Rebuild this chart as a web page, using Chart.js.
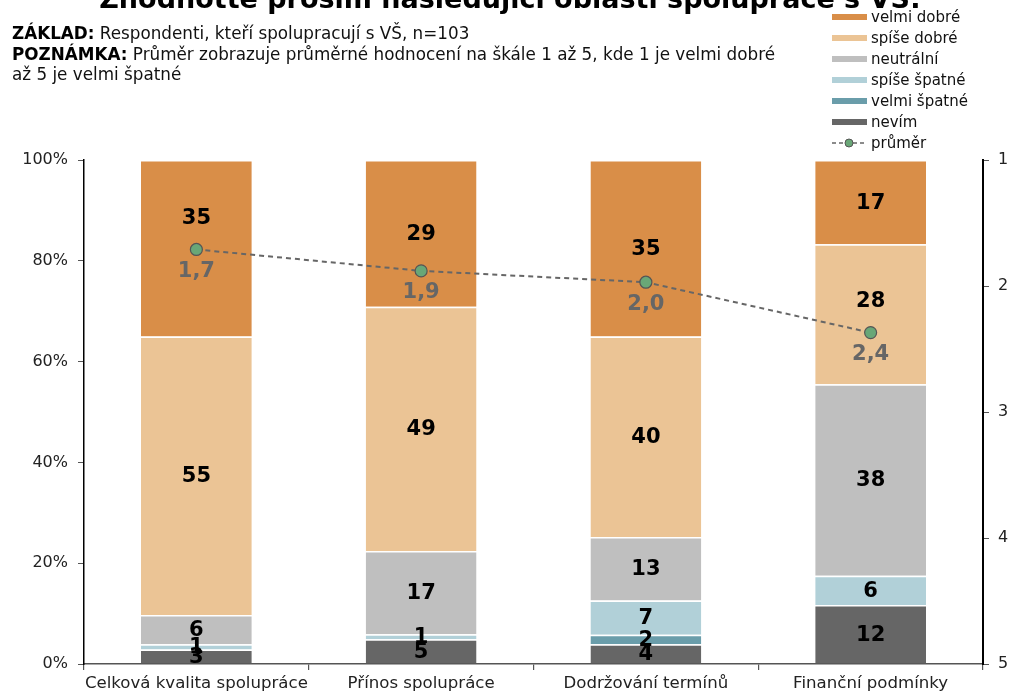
<!DOCTYPE html>
<html>
<head>
<meta charset="utf-8">
<script src="https://cdn.jsdelivr.net/npm/chart.js@4.4.1/dist/chart.umd.min.js"></script>
<style>
html,body{margin:0;padding:0;background:#fff;}
#wrap{position:relative;width:1014px;height:696px;}
</style>
</head>
<body>
<div id="wrap"><canvas id="c" width="1014" height="696"></canvas></div>
<script>
const categories = ["Celková kvalita spolupráce", "Přínos spolupráce", "Dodržování termínů", "Finanční podmínky"];
const nevim        = [2.9, 4.9, 3.9, 11.7];
const velmiSpatne  = [0, 0, 1.9, 0];
const spiseSpatne  = [1.0, 1.0, 6.8, 5.8];
const neutralni    = [5.8, 16.5, 12.6, 38.0];
const spiseDobre   = [55.3, 48.5, 39.8, 27.8];
const velmiDobre   = [35.0, 29.1, 35.0, 16.7];
const prumer       = [1.71, 1.88, 1.97, 2.37];
const leftTicks    = [0, 20, 40, 60, 80, 100];
const rightTicks   = [1, 2, 3, 4, 5];

const titleText = "Zhodnoťte prosím následující oblasti spolupráce s VŠ:";
const noteLines = [
  ["ZÁKLAD:", " Respondenti, kteří spolupracují s VŠ, n=103"],
  ["POZNÁMKA:", " Průměr zobrazuje průměrné hodnocení na škále 1 až 5, kde 1 je velmi dobré"],
  ["", "až 5 je velmi špatné"]
];

const FONT = "'DejaVu Sans', Verdana, sans-serif";

function barDs(label, data, color) {
  return { type: 'bar', label, data, backgroundColor: color, borderColor: '#ffffff',
           borderWidth: {top: 1.5, bottom: 0, left: 0, right: 0}, borderSkipped: false,
           yAxisID: 'y', stack: 's', order: 2,
           categoryPercentage: 1, barPercentage: 0.493 };
}

const datasets = [
  barDs('nevím', nevim, '#666666'),
  barDs('velmi špatné', velmiSpatne, '#6A9DAA'),
  barDs('spíše špatné', spiseSpatne, '#B1D0D8'),
  barDs('neutrální', neutralni, '#BFBFBF'),
  barDs('spíše dobré', spiseDobre, '#EBC495'),
  barDs('velmi dobré', velmiDobre, '#D98E48'),
  { type: 'line', label: 'průměr', data: prumer, yAxisID: 'y2', order: 0,
    borderColor: '#666666', borderWidth: 2, borderDash: [5, 4], fill: false,
    pointRadius: 6, pointHoverRadius: 6, pointBackgroundColor: '#69A777',
    pointBorderColor: '#555555', pointBorderWidth: 1.2, tension: 0 }
];

const decorPlugin = {
  id: 'decor',
  afterDraw(chart) {
    const ctx = chart.ctx;
    ctx.save();
    // title (cut at top)
    ctx.font = "bold 27px " + FONT;
    ctx.fillStyle = '#000';
    ctx.textAlign = 'center';
    ctx.textBaseline = 'alphabetic';
    ctx.fillText(titleText, 510, 8);
    // notes
    ctx.textAlign = 'left';
    noteLines.forEach((ln, i) => {
      const y = 39 + i * 20.5;
      let x = 12;
      if (ln[0]) {
        ctx.font = "bold 16.8px " + FONT;
        ctx.fillStyle = '#000';
        ctx.fillText(ln[0], x, y);
        x += ctx.measureText(ln[0]).width;
      }
      ctx.font = "16.8px " + FONT;
      ctx.fillStyle = '#111';
      ctx.fillText(ln[1], x, y);
    });
    // legend
    const items = [];
    for (let i = 5; i >= 0; i--) items.push(chart.data.datasets[i]);
    items.push(chart.data.datasets[6]);
    ctx.font = "15px " + FONT;
    ctx.textBaseline = 'middle';
    items.forEach((ds, i) => {
      const y = 17 + i * 21;
      if (ds.type === 'bar') {
        ctx.fillStyle = ds.backgroundColor;
        ctx.fillRect(832, y - 3, 35, 6);
      } else {
        ctx.strokeStyle = ds.borderColor;
        ctx.lineWidth = 1.5;
        ctx.setLineDash([4, 3]);
        ctx.beginPath(); ctx.moveTo(832, y); ctx.lineTo(867, y); ctx.stroke();
        ctx.setLineDash([]);
        ctx.beginPath(); ctx.arc(849, y, 4, 0, Math.PI * 2);
        ctx.fillStyle = ds.pointBackgroundColor; ctx.fill();
        ctx.strokeStyle = '#555'; ctx.lineWidth = 1; ctx.stroke();
      }
      ctx.fillStyle = '#111';
      ctx.textAlign = 'left';
      ctx.fillText(ds.label, 871, y + 1);
    });
    // bar value labels
    const lm = chart.getDatasetMeta(6);
    ctx.font = "bold 21px " + FONT;
    ctx.fillStyle = '#000';
    ctx.textAlign = 'center';
    ctx.textBaseline = 'middle';
    for (let d = 0; d < 6; d++) {
      const meta = chart.getDatasetMeta(d);
      meta.data.forEach((el, i) => {
        const v = chart.data.datasets[d].data[i];
        if (!v) return;
        let cy = (el.y + el.base) / 2;
        const p = lm.data[i];
        if (p && Math.abs(p.y - cy) < 25 && p.y > el.y && p.y < el.base) cy = p.y - 32;
        ctx.fillText(String(Math.round(v)), el.x, cy + 1);
      });
    }
    // mean labels
    ctx.fillStyle = '#666666';
    lm.data.forEach((el, i) => {
      const v = chart.data.datasets[6].data[i];
      ctx.fillText(v.toFixed(1).replace('.', ','), el.x, el.y + 22);
    });
    ctx.restore();
  }
};

new Chart(document.getElementById('c'), {
  data: { labels: categories, datasets },
  options: {
    responsive: false,
    animation: false,
    layout: { padding: { top: 160, left: 0, right: 0, bottom: 0 } },
    plugins: { legend: { display: false }, title: { display: false }, tooltip: { enabled: false } },
    scales: {
      x: {
        stacked: true,
        grid: { display: true, drawOnChartArea: false, offset: true, tickLength: 6, color: '#555', lineWidth: 1.2 },
        border: { display: true, color: '#555', width: 1.5 },
        ticks: { font: { family: FONT, size: 16.6 }, color: '#222', padding: 4, maxRotation: 0, minRotation: 0, autoSkip: false },
        afterFit(s) { s.height = 32; }
      },
      y: {
        stacked: true, min: 0, max: 100, position: 'left',
        afterBuildTicks(s) { s.ticks = leftTicks.map(v => ({ value: v })); },
        grid: { display: true, drawOnChartArea: false, tickLength: 6, color: '#555' },
        border: { display: true, color: '#000', width: 1.5 },
        ticks: { font: { family: FONT, size: 16 }, color: '#222', padding: 10, callback: v => v + '%' },
        afterFit(s) { s.width = 84; }
      },
      y2: {
        min: 1, max: 5, reverse: true, position: 'right',
        afterBuildTicks(s) { s.ticks = rightTicks.map(v => ({ value: v })); },
        grid: { display: true, drawOnChartArea: false, tickLength: 6, color: '#555' },
        border: { display: true, color: '#000', width: 2 },
        ticks: { font: { family: FONT, size: 16 }, color: '#222', padding: 9 },
        afterFit(s) { s.width = 31; }
      }
    }
  },
  plugins: [decorPlugin]
});
</script>
</body>
</html>
